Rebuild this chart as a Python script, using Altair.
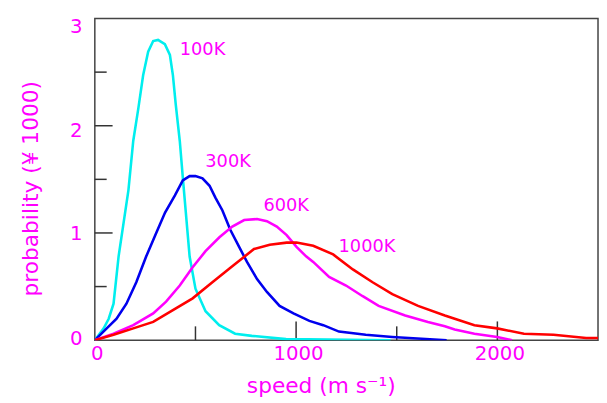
import altair as alt
import pandas as pd

series = ["100K", "300K", "600K", "1000K"]
colors = ["#00eeee", "#0000ee", "#ff00ff", "#ff0000"]

speed_100 = [0, 44, 69, 93, 118, 167, 191, 216, 240, 265, 290, 314, 348, 373, 388,
             402, 422, 437, 471, 500, 550, 618, 697, 780, 950, 1470]
prob_100 = [0, 0.11, 0.20, 0.34, 0.78, 1.40, 1.86, 2.16, 2.47, 2.69, 2.79, 2.80, 2.76,
            2.66, 2.47, 2.20, 1.86, 1.52, 0.78, 0.48, 0.27, 0.14, 0.06, 0.04, 0.01, 0]

speed_300 = [0, 59, 108, 157, 206, 255, 305, 349, 398, 437, 471, 500, 535, 570, 599,
             634, 673, 717, 756, 806, 855, 918, 987, 1066, 1135, 1213, 1346, 1478, 1748]
prob_300 = [0, 0.11, 0.20, 0.34, 0.54, 0.78, 1.00, 1.19, 1.35, 1.49, 1.53, 1.53, 1.51,
            1.44, 1.33, 1.21, 1.03, 0.87, 0.73, 0.57, 0.45, 0.32, 0.25, 0.18, 0.14,
            0.08, 0.05, 0.03, 0]

speed_600 = [0, 93, 191, 290, 354, 422, 486, 550, 619, 683, 742, 806, 855, 904, 953,
             1002, 1051, 1085, 1164, 1248, 1331, 1410, 1542, 1655, 1739, 1788, 1886,
             1999, 2073]
prob_600 = [0, 0.06, 0.14, 0.25, 0.36, 0.51, 0.68, 0.83, 0.96, 1.06, 1.12, 1.13, 1.11,
            1.06, 0.98, 0.87, 0.78, 0.73, 0.59, 0.51, 0.41, 0.32, 0.23, 0.17, 0.13,
            0.10, 0.06, 0.03, 0]

speed_1000 = [0, 93, 191, 290, 388, 486, 584, 683, 791, 869, 953, 1002, 1085, 1184,
              1282, 1380, 1478, 1606, 1739, 1886, 1999, 2132, 2279, 2441, 2500]
prob_1000 = [0, 0.05, 0.11, 0.17, 0.28, 0.39, 0.54, 0.69, 0.85, 0.89, 0.91, 0.91, 0.88,
             0.80, 0.66, 0.54, 0.43, 0.32, 0.23, 0.14, 0.11, 0.06, 0.05, 0.02, 0.02]

label_text = ["100K", "300K", "600K", "1000K"]
label_speed = [422, 549, 838, 1211]
label_prob = [2.71, 1.66, 1.25, 0.87]

y_major_ticks = [1, 2]
y_minor_ticks = [0.5, 1.5, 2.5]
x_major_ticks = [1000, 2000]
x_minor_ticks = [500, 1500]

x_labels = [0, 1000, 2000]
y_labels = [0, 1, 2, 3]

MAG = "#ff00ff"
FONT = "DejaVu Sans"

rows = []
for name, sp, pr in [("100K", speed_100, prob_100), ("300K", speed_300, prob_300),
                     ("600K", speed_600, prob_600), ("1000K", speed_1000, prob_1000)]:
    for i, (s, p) in enumerate(zip(sp, pr)):
        rows.append({"series": name, "speed": s, "prob": p, "i": i})
df = pd.DataFrame(rows)

xscale = alt.Scale(domain=[0, 2500], nice=False, zero=False)
yscale = alt.Scale(domain=[0, 3], nice=False, zero=False)

x_axis = alt.Axis(
    values=x_labels, format="d", ticks=False, domain=False, grid=False, labelFlush=False,
    labelPadding=4, labelOffset=2, labelFont=FONT, labelFontSize=20, labelColor=MAG,
    title="speed (m s⁻¹)", titleFont=FONT, titleFontSize=22, titleFontWeight="normal",
    titleColor=MAG, titleX=229, titleY=46, titleAlign="center", titleBaseline="middle",
)
y_axis = alt.Axis(
    values=y_labels, format="d", ticks=False, domain=False, grid=False, labelFlush=False,
    labelPadding=13, labelFont=FONT, labelFontSize=20, labelColor=MAG,
    labelOffset={"condition": [{"test": "datum.value == 3", "value": 8},
                               {"test": "datum.value == 2", "value": 5},
                               {"test": "datum.value == 1", "value": 1}],
                 "value": -2},
    title="probability (¥ 1000)", titleFont=FONT, titleFontSize=22,
    titleFontWeight="normal", titleColor=MAG, titleX=-65, titleY=172,
    titleAngle=270, titleAlign="center", titleBaseline="middle",
)

lines = alt.Chart(df).mark_line(strokeWidth=2.6, clip=True).encode(
    x=alt.X("speed:Q", scale=xscale, axis=x_axis),
    y=alt.Y("prob:Q", scale=yscale, axis=y_axis),
    color=alt.Color("series:N", scale=alt.Scale(domain=series, range=colors), legend=None),
    order="i:Q",
)

def tick_df(vals, col):
    return pd.DataFrame({col: vals})

ymaj = alt.Chart(tick_df(y_major_ticks, "prob")).mark_rule(color="#333", strokeWidth=1.5).encode(
    y=alt.Y("prob:Q", scale=yscale), x=alt.value(0), x2=alt.value(18))
ymin = alt.Chart(tick_df(y_minor_ticks, "prob")).mark_rule(color="#333", strokeWidth=1.5).encode(
    y=alt.Y("prob:Q", scale=yscale), x=alt.value(0), x2=alt.value(12))
xmaj = alt.Chart(tick_df(x_major_ticks, "speed")).mark_rule(color="#333", strokeWidth=1.5).encode(
    x=alt.X("speed:Q", scale=xscale), y=alt.value(326), y2=alt.value(307))
xmin = alt.Chart(tick_df(x_minor_ticks, "speed")).mark_rule(color="#333", strokeWidth=1.5).encode(
    x=alt.X("speed:Q", scale=xscale), y=alt.value(326), y2=alt.value(312))

labels_df = pd.DataFrame({"label": label_text, "speed": label_speed, "prob": label_prob})
labels = alt.Chart(labels_df).mark_text(
    align="left", baseline="middle", font=FONT, fontSize=18, color=MAG
).encode(
    x=alt.X("speed:Q", scale=xscale),
    y=alt.Y("prob:Q", scale=yscale),
    text="label:N",
)

chart = alt.layer(ymaj, ymin, xmaj, xmin, lines, labels).properties(
    width=510, height=326,
    padding={"left": 88, "top": 8, "right": 1, "bottom": 60},
    autosize="none",
    background="white",
).configure_view(stroke="#444", strokeWidth=1.5)

chart.save("out.html", embed_options={"renderer": "svg", "actions": False})
